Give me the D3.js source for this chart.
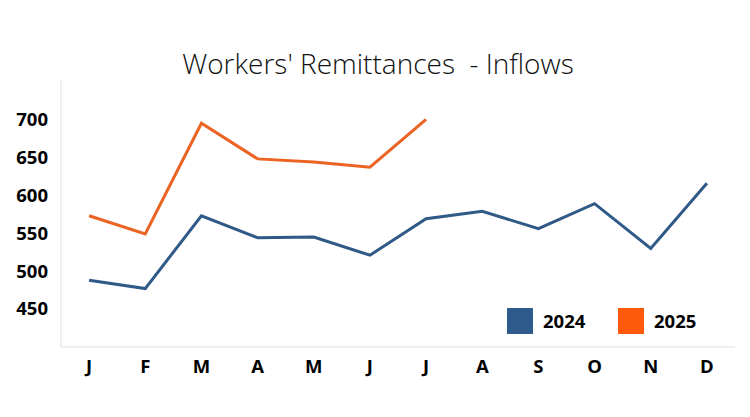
<!DOCTYPE html>
<html>
<head>
<meta charset="utf-8">
<script src="https://cdn.jsdelivr.net/npm/d3@7"></script>
<style>
  body { margin: 0; background: #fff; }
  text { font-family: "Open Sans", sans-serif; }
</style>
</head>
<body>
<div id="chart"></div>
<script>
// data
var months = ["J", "F", "M", "A", "M", "J", "J", "A", "S", "O", "N", "D"];
var values2024 = [488, 477, 573, 544, 545, 521, 569, 579, 556, 589, 530, 616];
var values2025 = [573, 549, 695, 648, 644, 637, 700];
var yTicks = [450, 500, 550, 600, 650, 700];
var seriesNames = ["2024", "2025"];

var width = 750, height = 417;
var plot = {left: 61, right: 735, top: 80, bottom: 347};

var svg = d3.select("#chart").append("svg")
  .attr("width", width)
  .attr("height", height);

// month index used as key so repeated letters stay distinct
var x = d3.scaleBand()
  .domain(d3.range(months.length))
  .range([plot.left, plot.right]);

var y = d3.scaleLinear()
  .domain([400, 750])
  .range([plot.bottom, plot.top + 1.5]);

// faint frame on the left and bottom of the plot area
svg.append("line")
  .attr("x1", plot.left).attr("x2", plot.left)
  .attr("y1", plot.top).attr("y2", plot.bottom)
  .style("stroke", "#efefef").style("stroke-width", 2);
svg.append("line")
  .attr("x1", plot.left).attr("x2", plot.right)
  .attr("y1", plot.bottom).attr("y2", plot.bottom)
  .style("stroke", "#efefef").style("stroke-width", 2);

// title
svg.append("text")
  .attr("x", 378)
  .attr("y", 74)
  .attr("text-anchor", "middle")
  .style("font-size", "28px")
  .style("font-weight", 300)
  .style("fill", "#111")
  .style("white-space", "pre")
  .text("Workers' Remittances  - Inflows");

// y axis labels
var yAxis = d3.axisLeft(y).tickValues(yTicks).tickSize(0).tickPadding(0);
var gy = svg.append("g")
  .attr("transform", "translate(48,0)")
  .call(yAxis);
gy.select(".domain").remove();
gy.selectAll("text")
  .style("font-family", "'Open Sans', sans-serif")
  .style("font-size", "18.5px")
  .style("font-weight", 700)
  .style("fill", "#000");

// x axis labels
var xAxis = d3.axisBottom(x).tickFormat(function(i) { return months[i]; }).tickSize(0).tickPadding(0);
var gx = svg.append("g")
  .attr("transform", "translate(0,360)")
  .call(xAxis);
gx.select(".domain").remove();
gx.selectAll("text")
  .style("font-family", "'Open Sans', sans-serif")
  .style("font-size", "18.5px")
  .style("font-weight", 700)
  .style("fill", "#000");

var line = d3.line()
  .x(function(d, i) { return x(i) + x.bandwidth() / 2; })
  .y(function(d) { return y(d); });

svg.append("path")
  .datum(values2024)
  .attr("d", line)
  .style("fill", "none")
  .style("stroke", "#2f5986")
  .style("stroke-width", 3)
  .style("stroke-linejoin", "miter");

svg.append("path")
  .datum(values2025)
  .attr("d", line)
  .style("fill", "none")
  .style("stroke", "#ec6424")
  .style("stroke-width", 3)
  .style("stroke-linejoin", "miter");

// legend
var legendColors = ["#2e5b8c", "#ff5a0a"];
var legend = svg.selectAll(".legend")
  .data(seriesNames)
  .enter().append("g")
  .attr("transform", function(d, i) { return "translate(" + (507 + i * 111) + ",308)"; });

legend.append("rect")
  .attr("width", 26)
  .attr("height", 26)
  .style("fill", function(d, i) { return legendColors[i]; });

legend.append("text")
  .attr("x", 36)
  .attr("y", 20)
  .style("font-size", "18.5px")
  .style("font-weight", 700)
  .style("fill", "#000")
  .text(function(d) { return d; });
</script>
</body>
</html>
